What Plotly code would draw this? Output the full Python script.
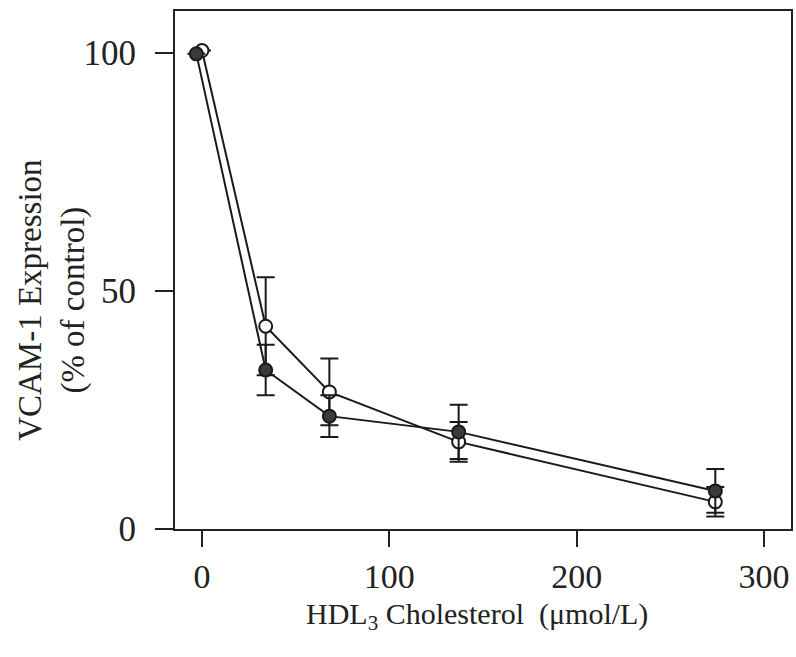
import plotly.graph_objects as go

# HDL3 cholesterol concentrations (umol/L)
x_open = [0, 34, 68, 137, 274]
x_filled = [-3, 34, 68, 137, 274]
# VCAM-1 expression (% of control)
y_open = [100.5, 42.6, 28.8, 18.3, 5.7]
y_filled = [99.8, 33.4, 23.7, 20.4, 8.0]
err_open = [0, 10.3, 7.0, 4.2, 3.1]
err_filled = [0, 5.3, 4.4, 5.7, 4.6]

x_ticks = [0, 100, 200, 300]
y_ticks = [0, 50, 100]

FONT = "Liberation Serif"

fig = go.Figure()
fig.add_trace(go.Scatter(
    x=x_open, y=y_open, mode="lines+markers",
    line=dict(color="#1a1a1a", width=2),
    marker=dict(symbol="circle", size=13, color="white",
                line=dict(color="#1a1a1a", width=2)),
    error_y=dict(type="data", array=err_open, visible=True,
                 color="#1a1a1a", thickness=2, width=9),
    showlegend=False,
))
fig.add_trace(go.Scatter(
    x=x_filled, y=y_filled, mode="lines+markers",
    line=dict(color="#1a1a1a", width=2),
    marker=dict(symbol="circle", size=13, color="#3a3a3a",
                line=dict(color="#1a1a1a", width=2)),
    error_y=dict(type="data", array=err_filled, visible=True,
                 color="#1a1a1a", thickness=2, width=9),
    showlegend=False,
))

fig.update_layout(
    width=796, height=657,
    margin=dict(l=175, r=3, t=11, b=128),
    paper_bgcolor="white", plot_bgcolor="white",
    font=dict(family=FONT, color="#222222", size=28),
    xaxis=dict(range=[-14.4, 314.4], tickvals=x_ticks,
               ticks="outside", ticklen=16, tickwidth=2, tickcolor="#222",
               showline=True, linewidth=2, linecolor="#222", mirror=True,
               showgrid=False, zeroline=False, ticklabelstandoff=0,
               tickfont=dict(family=FONT, size=34, color="#222")),
    yaxis=dict(range=[0, 108.8], tickvals=y_ticks,
               ticks="outside", ticklen=18, tickwidth=2, tickcolor="#222",
               showline=True, linewidth=2, linecolor="#222", mirror=True,
               showgrid=False, zeroline=False, ticklabelstandoff=12,
               tickfont=dict(family=FONT, size=35, color="#222")),
    annotations=[
        dict(text="HDL<sub>3</sub> Cholesterol  (\u03bcmol/L)",
             xref="paper", yref="paper", x=0.49, y=-0.168,
             xanchor="center", yanchor="middle", showarrow=False,
             font=dict(family=FONT, size=30, color="#222")),
        dict(text="VCAM-1 Expression<br>(% of control)",
             xref="paper", yref="paper", x=-0.2, y=0.442,
             xanchor="center", yanchor="middle", showarrow=False,
             textangle=-90,
             font=dict(family=FONT, size=33, color="#222")),
    ],
)

fig.write_html("out.html")
